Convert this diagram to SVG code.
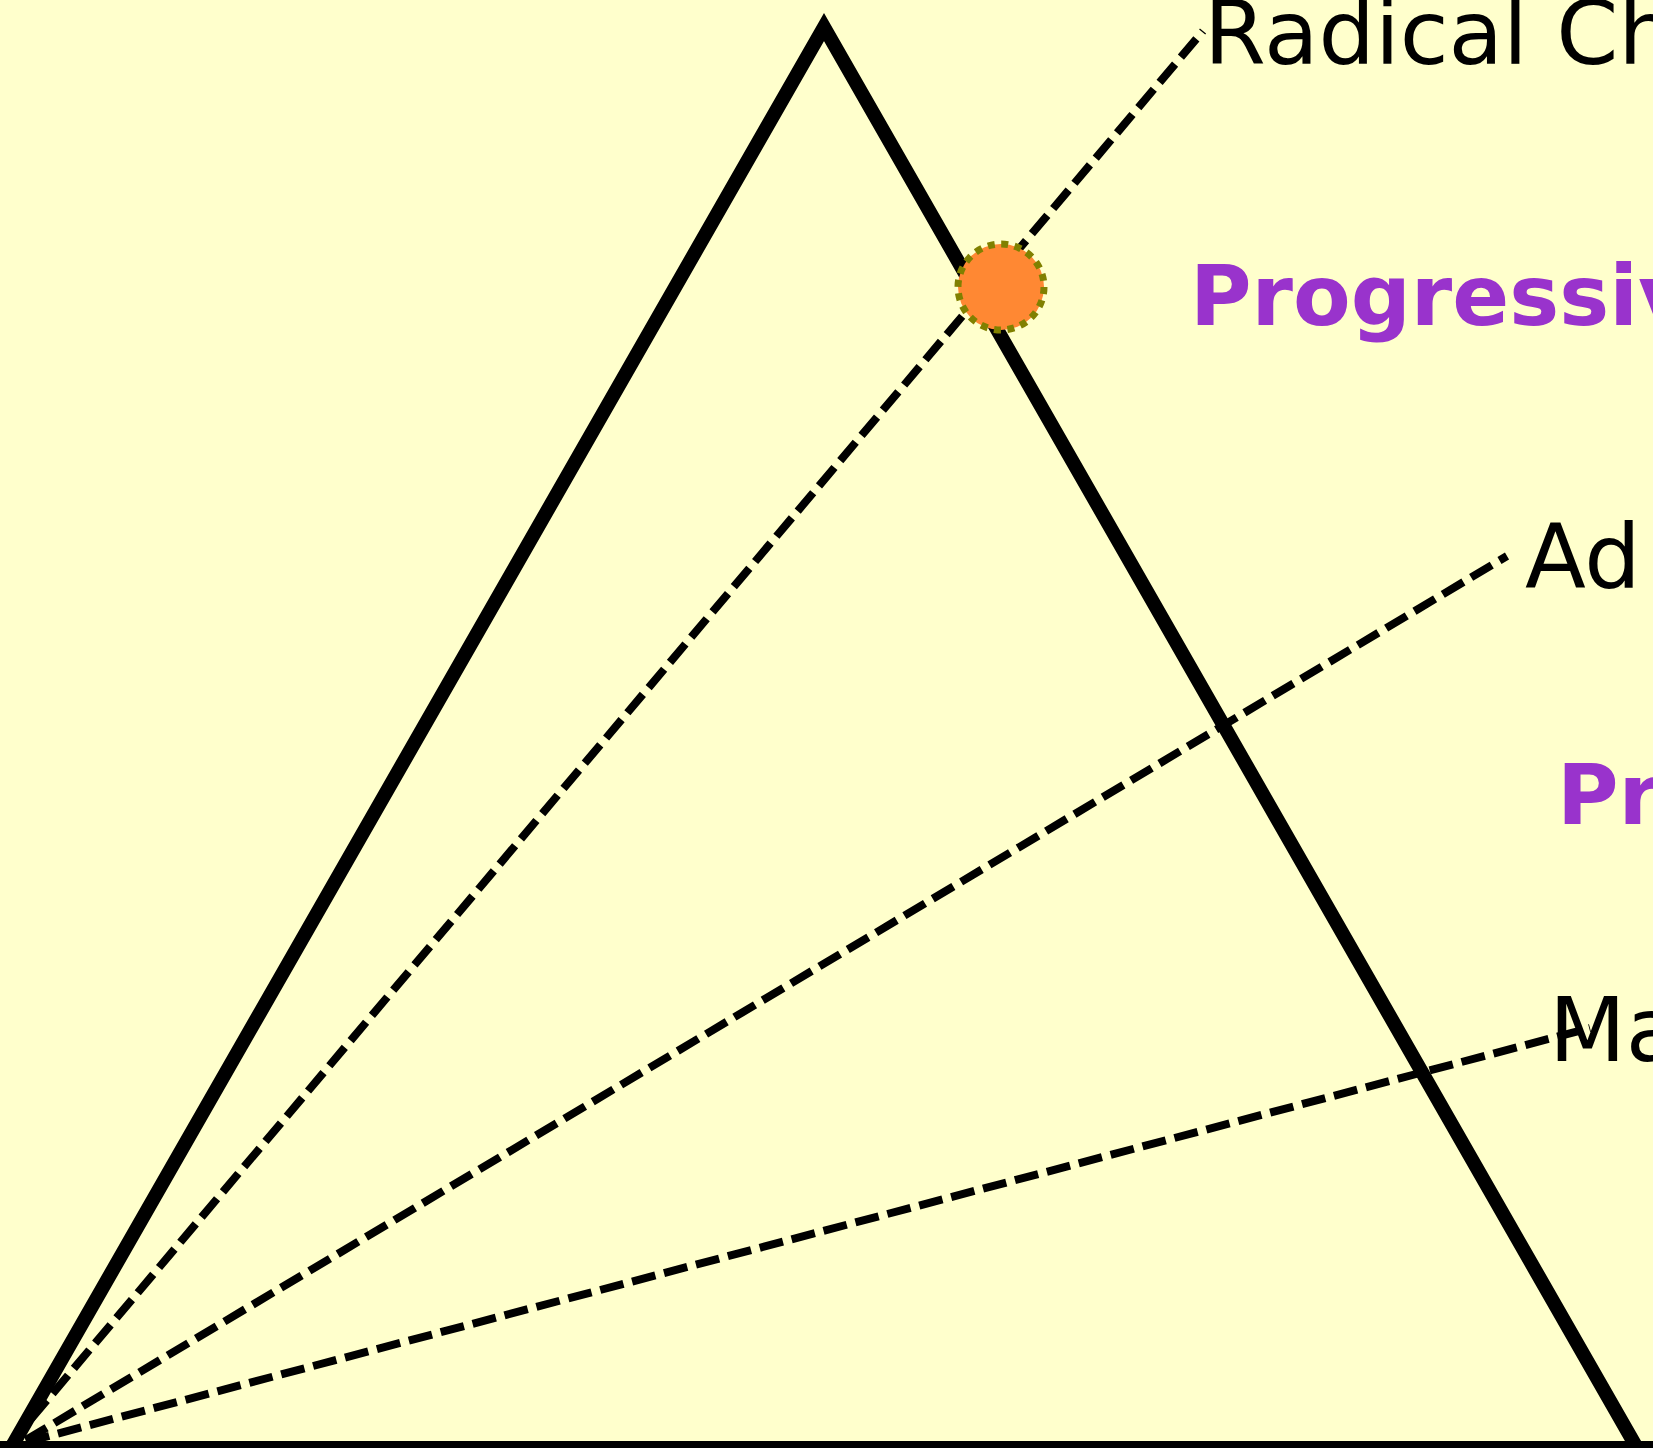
<svg xmlns="http://www.w3.org/2000/svg" width="1653" height="1448" viewBox="0 0 1653 1448">
<style>
.lbl{font-family:"DejaVu Sans","Liberation Sans",sans-serif;font-size:89px;fill:#000}
.hl{font-family:"DejaVu Sans","Liberation Sans",sans-serif;font-weight:bold;font-size:84px;fill:#9933CC}
.dash{fill:none;stroke:#000;stroke-width:8;stroke-dasharray:24 9}
.edge{fill:none;stroke:#000;stroke-width:14;stroke-linejoin:miter;stroke-miterlimit:10}
</style>
<rect x="0" y="0" width="1653" height="1448" fill="#FFFFCC"/>
<g id="triangle">
<polygon class="edge" points="11,1448 824,27 1637,1448"/>
<line class="edge" x1="0" y1="1448" x2="1653" y2="1448"/>
</g>
<g id="label-radical"><text class="lbl" x="1204" y="64">Radical Ch</text></g>
<g id="label-progressive-1"><text class="hl" x="1190" y="325">Progressiv</text></g>
<g id="label-adaptive"><text class="lbl" x="1525" y="588">Ad</text></g>
<g id="label-progressive-2"><text class="hl" x="1557" y="824">Pr</text></g>
<g id="label-maintenance"><text class="lbl" x="1549" y="1061">Ma</text></g>
<g id="connectors">
<path class="dash" d="M10 1444 L1203 31"/>
<path class="dash" d="M26 1440 L1507 556"/>
<path class="dash" d="M26 1442 L1590 1028"/>
</g>
<g id="marker-point">
<circle cx="1001" cy="287" r="43" fill="#FF8833" stroke="#808000" stroke-width="7" stroke-dasharray="7 6.5"/>
</g>
</svg>
